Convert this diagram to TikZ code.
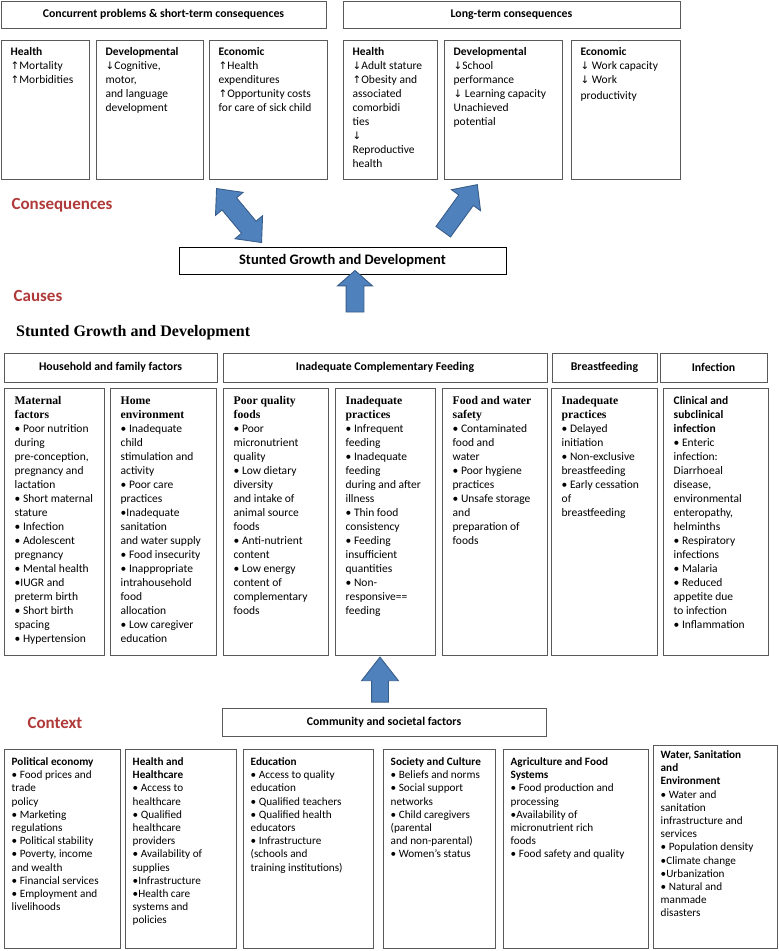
\documentclass[tikz,border=0pt]{standalone}
\usepackage{fontspec}
\setmainfont{Carlito}
\newfontfamily\tnr{Liberation Serif}
\newfontfamily\arrowfont[Scale=0.9]{DejaVu Sans}
\usetikzlibrary{calc,fit,shapes.arrows}
\definecolor{arrowblue}{HTML}{4F81BD}
\definecolor{arrowedge}{HTML}{385D8A}
\definecolor{ctxred}{HTML}{B03A3A}
\newcommand\upa{{\arrowfont\char"2191}}
\newcommand\dna{{\arrowfont\char"2193}}
\newcommand\hd[1]{{\tnr\bfseries\fontsize{11.7}{14}\selectfont #1}}

\begin{document}
\begin{tikzpicture}[x=1pt,y=-1pt,
    frame/.style={draw=black!65, line width=1pt, inner sep=0pt},
    hdr/.style={inner sep=0pt, font=\bfseries\fontsize{11.8}{14}\selectfont},
    txt/.style={anchor=north west, align=left, inner sep=0pt, font=\fontsize{11.5}{14}\selectfont},
    txtsm/.style={txt, font=\fontsize{11.2}{13.2}\selectfont},
    part/.style={font=\bfseries\fontsize{17}{20}\selectfont, text=ctxred, inner sep=0pt},
    blockarrow/.style={draw=arrowedge, fill=arrowblue, line width=0.9pt, inner xsep=0pt}]
    \useasboundingbox (0,0) rectangle (779,951);

    % consequences
    \node[frame, fit={(1,1) (326,28)}] (h1) {};
    \node[hdr] (h1-txt) at (h1.center) {Concurrent problems \& short-term consequences};
    \node[frame, fit={(343,1) (680,28)}] (h2) {};
    \node[hdr] (h2-txt) at (h2.center) {Long-term consequences};

    \node[frame, fit={(1,40) (89,179)}] (t1) {};
    \node[txt] (t1-txt) at ([shift={(10,8)}]t1.north west) {\textbf{Health}\\\upa Mortality\\\upa Morbidities};
    \node[frame, fit={(96,40) (203,179)}] (t2) {};
    \node[txt] (t2-txt) at ([shift={(10,8)}]t2.north west) {\textbf{Developmental}\\\dna Cognitive,\\motor,\\and language\\development};
    \node[frame, fit={(209,40) (327,179)}] (t3) {};
    \node[txt] (t3-txt) at ([shift={(10,8)}]t3.north west) {\textbf{Economic}\\\upa Health\\expenditures\\\upa Opportunity costs\\for care of sick child};
    \node[frame, fit={(343,40) (437,179)}] (t4) {};
    \node[txt] (t4-txt) at ([shift={(10,8)}]t4.north west) {\textbf{Health}\\\dna Adult stature\\\upa Obesity and\\associated\\comorbidi\\ties\\\dna\\Reproductive\\health};
    \node[frame, fit={(444,40) (562,179)}] (t5) {};
    \node[txt] (t5-txt) at ([shift={(10,8)}]t5.north west) {\textbf{Developmental}\\\dna School\\performance\\\dna{} Learning capacity\\Unachieved\\potential};
    \node[frame, fit={(571,40) (680,179)}] (t6) {};
    \node[txt] (t6-txt) at ([shift={(10,8)}]t6.north west) {\textbf{Economic}\\\dna{} Work capacity\\\dna{} Work\\[2pt]productivity};

    \node[part] (conseq) at (62,205) {Consequences};
    \node[frame, draw=black, line width=0.8pt, fit={(179,247) (506,274)}] (sgd) {};
    \node[inner sep=0pt, font=\bfseries\fontsize{14.5}{16}\selectfont] (sgd-txt) at (sgd.center) {Stunted Growth and Development};

    % block arrows
    \coordinate (dblTop) at ($(t3.south west)+(8,9)$);
    \coordinate (dblBot) at ($(sgd.north west)+(83,-4)$);
    \coordinate (ltTip) at ($(t5.south west)+(31,9)$);
    \coordinate (ltTail) at ($(sgd.north east)+(-66,-11)$);
    \coordinate (upTail) at (355,316);
    \coordinate (upTip) at (upTail |- sgd.south);
    \path let \p1=($(dblBot)-(dblTop)$), \n1={atan2(\y1,\x1)}, \n2={veclen(\x1,\y1)} in
        node[blockarrow, double arrow, inner ysep=9pt, double arrow head extend=8.5pt, double arrow tip angle=84,
            rotate=\n1, minimum height=\n2] (dbl) at ($(dblTop)!0.5!(dblBot)$) {};
    \path let \p1=($(ltTip)-(ltTail)$), \n1={atan2(\y1,\x1)}, \n2={veclen(\x1,\y1)} in
        node[blockarrow, single arrow, inner ysep=8.5pt, single arrow head extend=9pt, single arrow tip angle=86,
            rotate=\n1, minimum height=\n2] (lt) at ($(ltTail)!0.5!(ltTip)$) {};
    \path let \p1=($(upTip)-(upTail)$), \n1={atan2(\y1,\x1)}, \n2={veclen(\x1,\y1)} in
        node[blockarrow, single arrow, inner ysep=8.5pt, single arrow head extend=8.5pt, single arrow tip angle=97,
            rotate=\n1, minimum height=\n2] (up) at ($(upTail)!0.5!(upTip)$) {};

    % causes
    \node[part] (causes) at (38,296) {Causes};
    \node[anchor=west, inner sep=0pt, font=\tnr\bfseries\fontsize{16}{18}\selectfont] (title) at (16,333) {Stunted Growth and Development};

    \node[frame, fit={(4,353) (217,382)}] (m1) {};
    \node[hdr] (m1-txt) at (m1.center) {Household and family factors};
    \node[frame, fit={(223,353) (547,382)}] (m2) {};
    \node[hdr] (m2-txt) at (m2.center) {Inadequate Complementary Feeding};
    \node[frame, fit={(552,353) (657,382)}] (m3) {};
    \node[hdr] (m3-txt) at (m3.center) {Breastfeeding};
    \node[frame, fit={(660,353) (767,382)}] (m4) {};
    \node[hdr] (m4-txt) at (m4.center) {Infection};

    \node[frame, fit={(4,388) (104,655)}] (b1) {};
    \node[txt] (b1-txt) at ([shift={(11,9)}]b1.north west) {\hd{Maternal}\\\hd{factors}\\• Poor nutrition\\during\\pre-conception,\\pregnancy and\\lactation\\• Short maternal\\stature\\• Infection\\• Adolescent\\pregnancy\\• Mental health\\•IUGR and\\preterm birth\\• Short birth\\spacing\\• Hypertension};
    \node[frame, fit={(110,388) (216,655)}] (b2) {};
    \node[txt] (b2-txt) at ([shift={(11,9)}]b2.north west) {\hd{Home}\\\hd{environment}\\• Inadequate\\child\\stimulation and\\activity\\• Poor care\\practices\\•Inadequate\\sanitation\\and water supply\\• Food insecurity\\• Inappropriate\\intrahousehold\\food\\allocation\\• Low caregiver\\education};
    \node[frame, fit={(223,388) (328,655)}] (b3) {};
    \node[txt] (b3-txt) at ([shift={(11,9)}]b3.north west) {\hd{Poor quality}\\\hd{foods}\\• Poor\\micronutrient\\quality\\• Low dietary\\diversity\\and intake of\\animal source\\foods\\• Anti-nutrient\\content\\• Low energy\\content of\\complementary\\foods};
    \node[frame, fit={(335,388) (435,655)}] (b4) {};
    \node[txt] (b4-txt) at ([shift={(11,9)}]b4.north west) {\hd{Inadequate}\\\hd{practices}\\• Infrequent\\feeding\\• Inadequate\\feeding\\during and after\\illness\\• Thin food\\consistency\\• Feeding\\insufficient\\quantities\\• Non-\\responsive==\\feeding};
    \node[frame, fit={(442,388) (547,655)}] (b5) {};
    \node[txt] (b5-txt) at ([shift={(11,9)}]b5.north west) {\hd{Food and water}\\\hd{safety}\\• Contaminated\\food and\\water\\• Poor hygiene\\practices\\• Unsafe storage\\and\\preparation of\\foods};
    \node[frame, fit={(551,388) (657,655)}] (b6) {};
    \node[txt] (b6-txt) at ([shift={(11,9)}]b6.north west) {\hd{Inadequate}\\\hd{practices}\\• Delayed\\initiation\\• Non-exclusive\\breastfeeding\\• Early cessation\\of\\breastfeeding};
    \node[frame, fit={(663,388) (768,655)}] (b7) {};
    \node[txt] (b7-txt) at ([shift={(11,9)}]b7.north west) {\textbf{Clinical and}\\\textbf{subclinical}\\\textbf{infection}\\• Enteric\\infection:\\Diarrhoeal\\disease,\\environmental\\enteropathy,\\helminths\\• Respiratory\\infections\\• Malaria\\• Reduced\\appetite due\\to infection\\• Inflammation};

    % context
    \node[part] (context) at (55,723) {Context};
    \node[frame, fit={(222,708) (546,736)}] (comm) {};
    \node[hdr] (comm-txt) at (comm.center) {Community and societal factors};
    \coordinate (midTip) at ($(b4.south)+(-5,7)$);
    \coordinate (midTail) at (midTip |- comm.north);
    \path let \p1=($(midTip)-(midTail)$), \n1={atan2(\y1,\x1)}, \n2={veclen(\x1,\y1)} in
        node[blockarrow, single arrow, inner ysep=8pt, single arrow head extend=10pt, single arrow tip angle=76,
            rotate=\n1, minimum height=\n2] (mid) at ($(midTail)!0.5!(midTip)$) {};

    \node[frame, fit={(4,749) (120,948)}] (c1) {};
    \node[txtsm] (c1-txt) at ([shift={(8,9)}]c1.north west) {\textbf{Political economy}\\• Food prices and\\trade\\policy\\• Marketing\\regulations\\• Political stability\\• Poverty, income\\and wealth\\• Financial services\\• Employment and\\livelihoods};
    \node[frame, fit={(125,749) (236,948)}] (c2) {};
    \node[txtsm] (c2-txt) at ([shift={(8,9)}]c2.north west) {\textbf{Health and}\\\textbf{Healthcare}\\• Access to\\healthcare\\• Qualified\\healthcare\\providers\\• Availability of\\supplies\\•Infrastructure\\•Health care\\systems and\\policies};
    \node[frame, fit={(243,749) (373,948)}] (c3) {};
    \node[txtsm] (c3-txt) at ([shift={(8,9)}]c3.north west) {\textbf{Education}\\• Access to quality\\education\\• Qualified teachers\\• Qualified health\\educators\\• Infrastructure\\(schools and\\training institutions)};
    \node[frame, fit={(383,749) (495,948)}] (c4) {};
    \node[txtsm] (c4-txt) at ([shift={(8,9)}]c4.north west) {\textbf{Society and Culture}\\• Beliefs and norms\\• Social support\\networks\\• Child caregivers\\(parental\\and non-parental)\\• Women’s status};
    \node[frame, fit={(503,749) (648,948)}] (c5) {};
    \node[txtsm] (c5-txt) at ([shift={(8,9)}]c5.north west) {\textbf{Agriculture and Food}\\\textbf{Systems}\\• Food production and\\processing\\•Availability of\\micronutrient rich\\foods\\• Food safety and quality};
    \node[frame, fit={(653,745) (777,948)}] (c6) {};
    \node[txtsm] (c6-txt) at ([shift={(8,6)}]c6.north west) {\textbf{Water, Sanitation}\\\textbf{and}\\\textbf{Environment}\\• Water and\\sanitation\\infrastructure and\\services\\• Population density\\•Climate change\\•Urbanization\\• Natural and\\manmade\\disasters};
\end{tikzpicture}
\end{document}
